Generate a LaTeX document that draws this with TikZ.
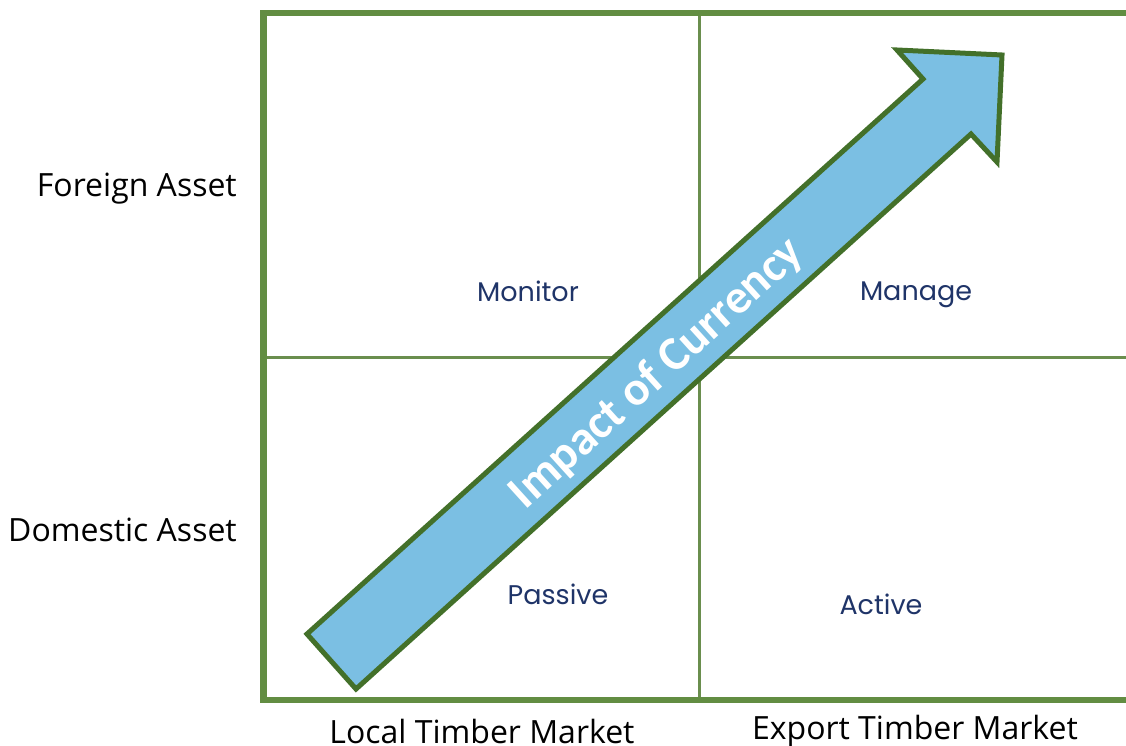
\documentclass[tikz,border=0pt]{standalone}
\usepackage{fontspec}
\setmainfont{Open Sans}
\newfontfamily\cellfont{Poppins}
\newfontfamily\arrowfont{Carlito}
\definecolor{gridgreen}{HTML}{628D42}
\definecolor{thingreen}{HTML}{6A8E4E}
\definecolor{arrowline}{HTML}{43702A}
\definecolor{arrowfill}{HTML}{7BBFE3}
\definecolor{navy}{HTML}{1F3468}
\tikzset{
  axislabel/.style={font=\fontsize{32}{38}\selectfont, text=black, inner sep=0pt},
  celllabel/.style={font=\cellfont\fontsize{27}{32}\selectfont, text=navy, inner sep=0pt},
  frame/.style={draw=gridgreen, line width=6.5pt},
  divider/.style={draw=thingreen, line width=3pt},
  bigarrow/.style={draw=arrowline, fill=arrowfill, line width=5pt, line join=miter},
}
\begin{document}
\begin{tikzpicture}[x=1pt, y=-1pt]
  \useasboundingbox (0,0) rectangle (1126,746);

  % quadrant dividers
  \coordinate (vtop) at (699,13);
  \coordinate (vbot) at (699,700);
  \coordinate (hleft) at (263,357);
  \coordinate (hright) at (1126,357);
  \draw[divider] (vtop) -- (vbot);
  \draw[divider] (hleft) -- (hright);

  % outer frame (left, top, bottom)
  \coordinate (tr) at (1126,13);
  \coordinate (tl) at (263.5,13);
  \coordinate (bl) at (263.5,700);
  \coordinate (br) at (1126,700);
  \draw[frame, line cap=rect] (tr) -- (tl) -- (bl) -- (br);

  % quadrant labels
  \node[celllabel] (monitor) at (528,291) {Monitor};
  \node[celllabel] (manage)  at (916,295) {Manage};
  \node[celllabel] (passive) at (558,594) {Passive};
  \node[celllabel] (active)  at (881,604) {Active};

  % diagonal arrow
  \coordinate (tailL) at (307,634);
  \coordinate (tailB) at (356,689);
  \coordinate (notchR) at (971,134);
  \coordinate (barbR) at (997,162);
  \coordinate (tip) at (1002,55);
  \coordinate (barbL) at (897,50);
  \coordinate (notchL) at (923,79);
  \draw[bigarrow] (tailL) -- (tailB) -- (notchR) -- (barbR) -- (tip) -- (barbL) -- (notchL) -- cycle;
  \node[font=\arrowfont\bfseries\fontsize{48}{54}\selectfont, text=white, rotate=42.2, inner sep=0pt]
    (impact) at (657,374) {Impact of Currency};

  % axis labels
  \node[axislabel, anchor=east] (foreign) at (237,189) {Foreign Asset};
  \node[axislabel, anchor=east] (domestic) at (237,530) {Domestic Asset};
  \node[axislabel] (local) at (482,731) {Local Timber Market};
  \node[axislabel] (export) at (915,731) {Export Timber Market};
\end{tikzpicture}
\end{document}
